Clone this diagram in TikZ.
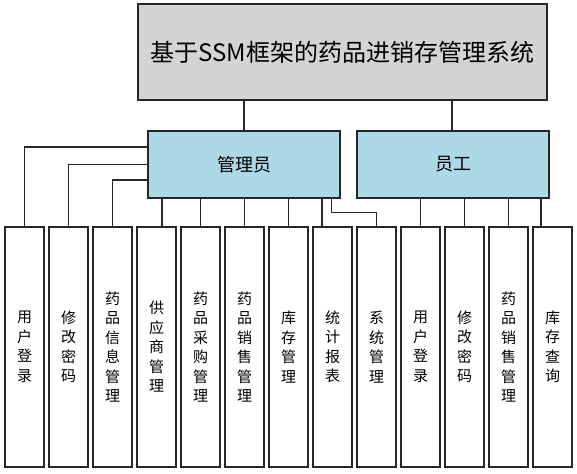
\documentclass[tikz,border=0pt]{standalone}
\usepackage{fontspec}
\setmainfont{Noto Sans CJK SC}
\begin{document}
\begin{tikzpicture}[x=1pt,y=-1pt,
  box/.style={draw=black!85,line width=1.1pt,inner sep=0pt,anchor=center},
  titlebox/.style={box,fill=black!17,minimum width=409pt,minimum height=96pt,font=\fontsize{24}{28}\selectfont},
  rolebox/.style={box,fill=cyan!10!blue!8!white!0,fill={rgb,255:red,173;green,216;blue,230},minimum width=192pt,minimum height=67pt,font=\fontsize{18}{22}\selectfont},
  leaf/.style={box,fill=white,minimum width=39pt,minimum height=240pt,align=center,font=\fontsize{15}{19.5}\selectfont},
  conn/.style={draw=black!85,line width=1.1pt}]
\useasboundingbox (0,0) rectangle (577,473);
\node[titlebox] (top) at (342.5,52) {基于SSM框架的药品进销存管理系统};
\node[rolebox] (mgr) at (244,164.5) {管理员};
\node[rolebox] (emp) at (453,164.5) {员工};
\foreach \i/\t in {0/用\\户\\登\\录, 1/修\\改\\密\\码, 2/药\\品\\信\\息\\管\\理, 3/供\\应\\商\\管\\理, 4/药\\品\\采\\购\\管\\理, 5/药\\品\\销\\售\\管\\理, 6/库\\存\\管\\理, 7/统\\计\\报\\表, 8/系\\统\\管\\理, 9/用\\户\\登\\录, 10/修\\改\\密\\码, 11/药\\品\\销\\售\\管\\理, 12/库\\存\\查\\询}
  \node[leaf] (b\i) at ({24.5+44*\i},347) {\t};
% top to roles
\draw[conn] (top.south -| mgr.north) -- (mgr.north);
\draw[conn] ([xshift=-1pt]top.south -| emp.north) -- ([xshift=-1pt]emp.north);
% manager left-side branches
\draw[conn] ([yshift=17.5pt]mgr.west) -| (b0.north);
\draw[conn] (mgr.west) -| (b1.north);
\draw[conn] ([yshift=-15.5pt]mgr.west) -| (b2.north);
% manager bottom branches
\draw[conn] ([xshift=5.5pt]b3.north |- mgr.south) -- ([xshift=5.5pt]b3.north);
\foreach \i in {4,5,6}
  \draw[conn] (b\i.north |- mgr.south) -- (b\i.north);
\draw[conn] ([xshift=-10.5pt]b7.north |- mgr.south) -- ([xshift=-10.5pt]b7.north);
\draw[conn] ([xshift=-9pt]mgr.south east) -- ++(0,14) -| (b8.north);
% employee branches
\foreach \i in {9,10,11}
  \draw[conn] (b\i.north |- emp.south) -- (b\i.north);
\draw[conn] ([xshift=-11.5pt]b12.north |- emp.south) -- ([xshift=-11.5pt]b12.north);
\end{tikzpicture}
\end{document}
